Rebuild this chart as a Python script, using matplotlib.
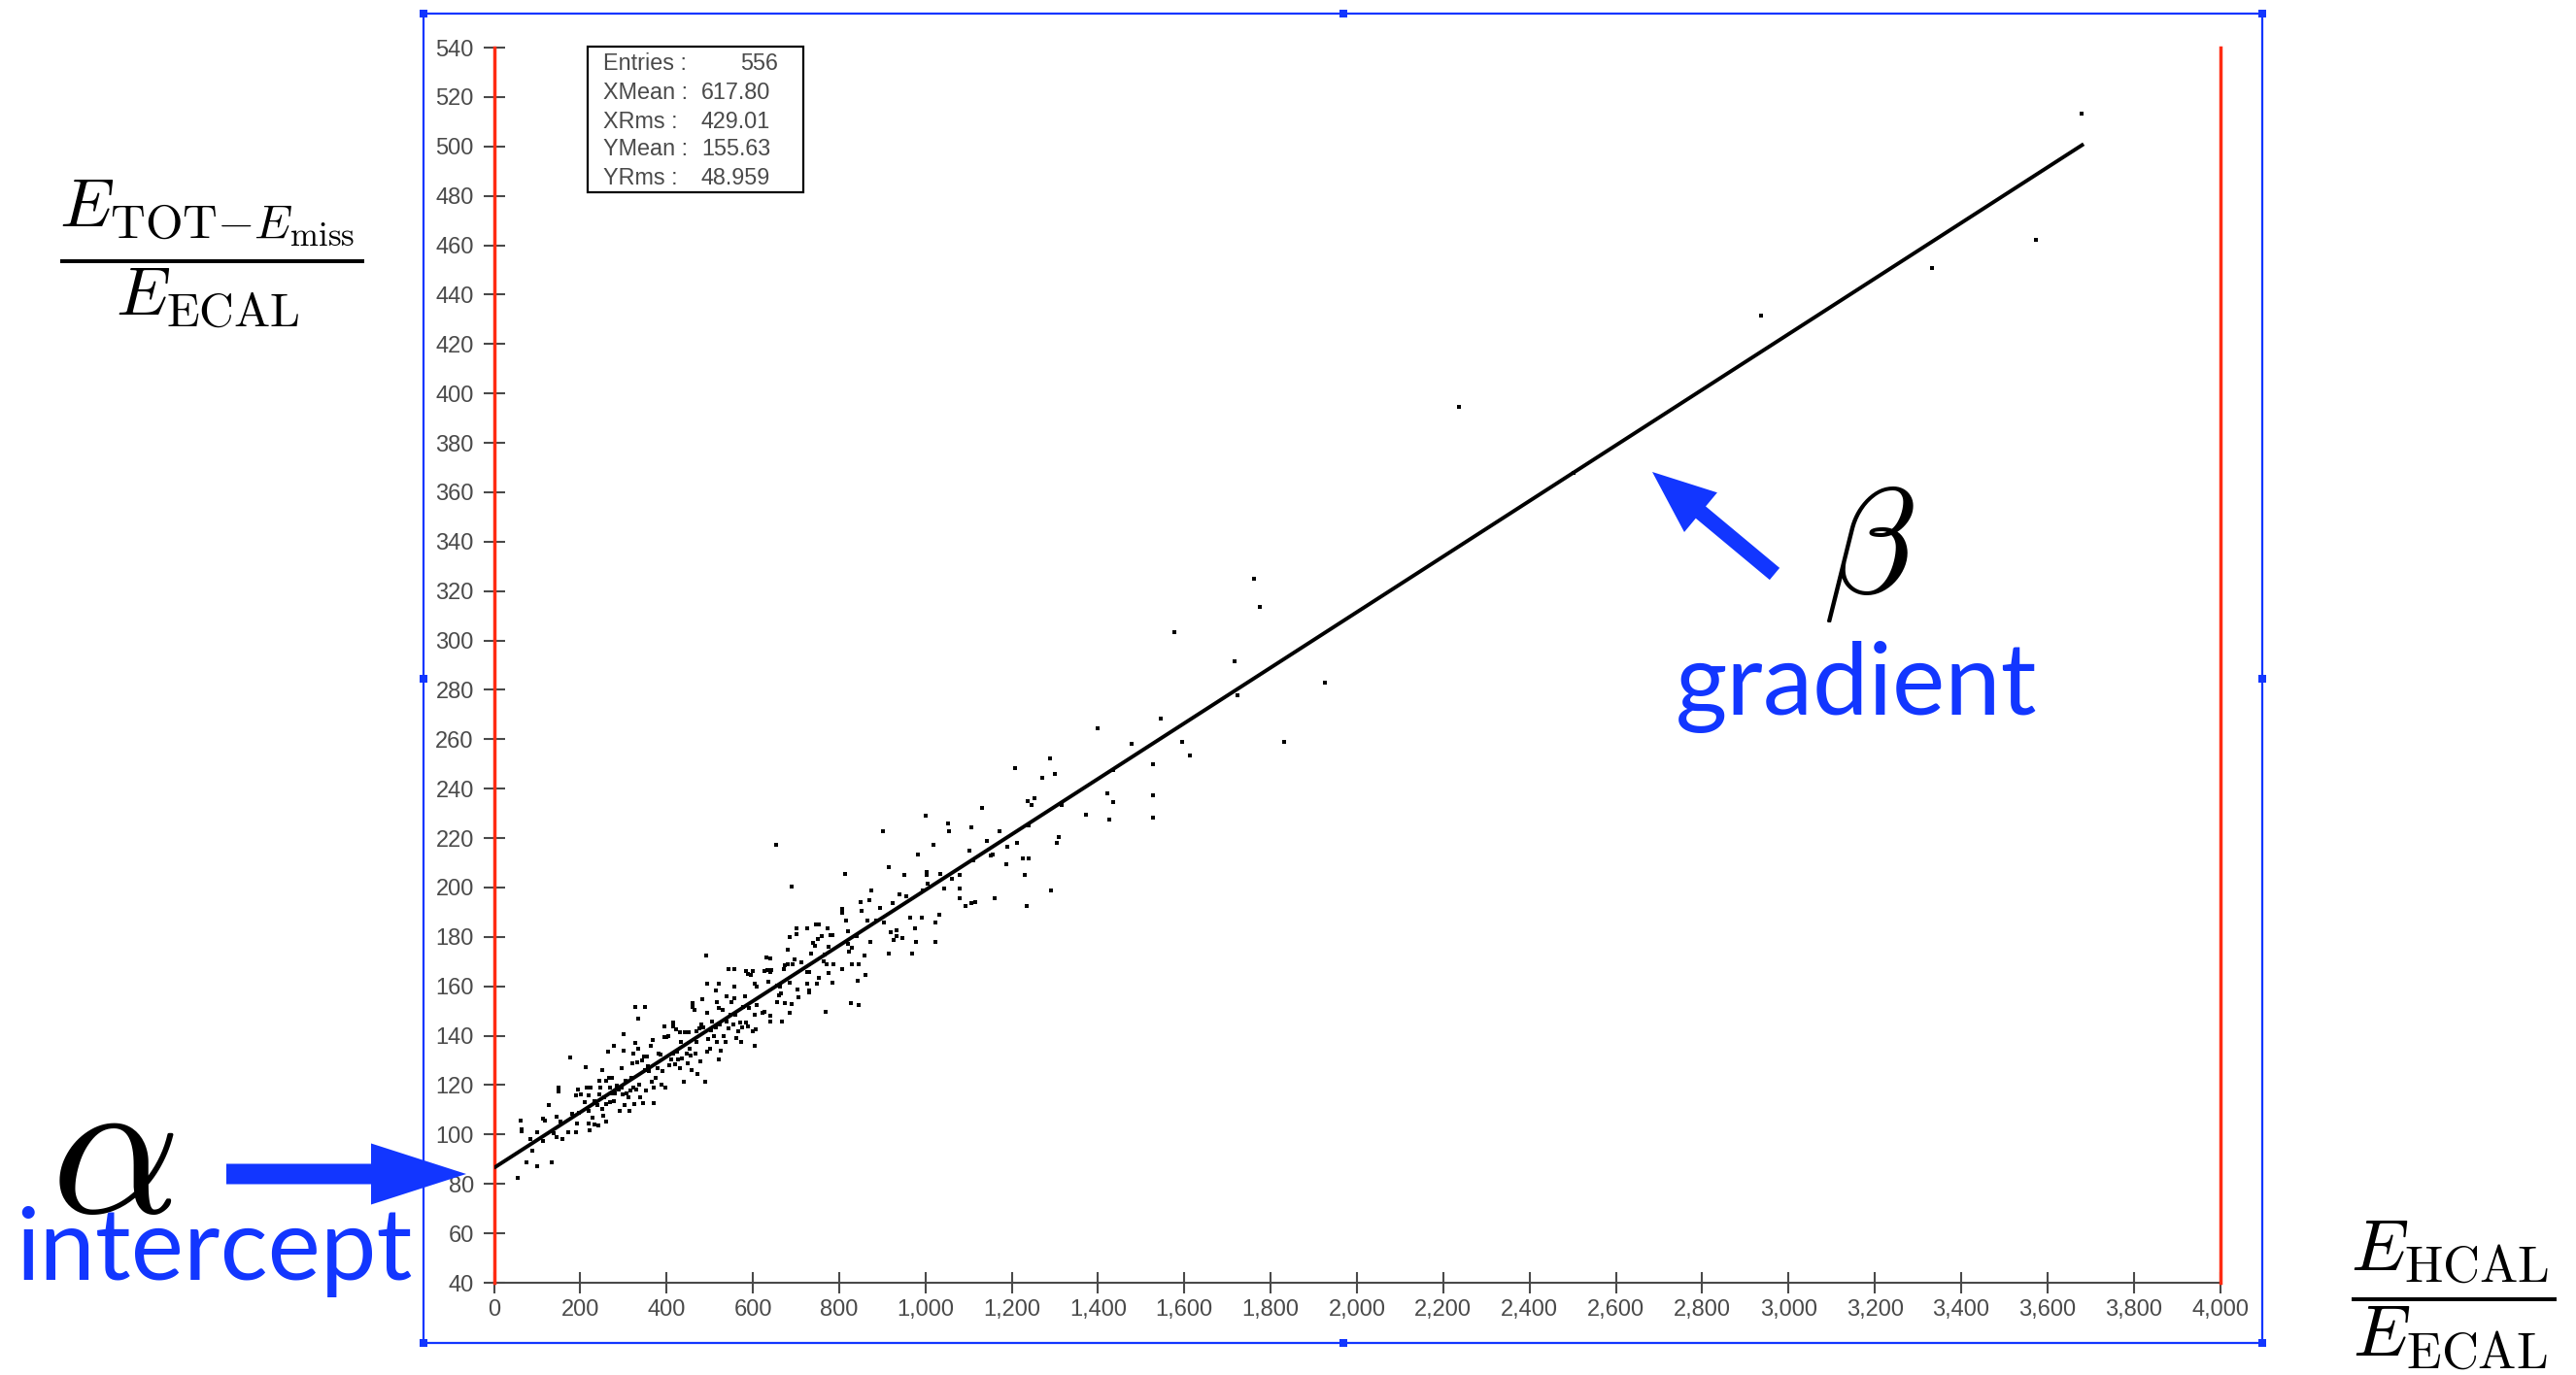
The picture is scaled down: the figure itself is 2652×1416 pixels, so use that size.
import matplotlib
matplotlib.use("Agg")
import matplotlib.pyplot as plt
from matplotlib.patches import Rectangle, FancyArrow

plt.rcParams["mathtext.fontset"] = "cm"

W, H, DPI = 2652, 1416, 100

# Per-event energy ratios: x = E_HCAL / E_ECAL, y = (E_TOT - E_miss) / E_ECAL
ehcal_over_ecal = [
    56, 61, 65, 65, 75, 84, 88, 101, 101, 114, 118, 114, 127, 133, 139, 145, 145, 149, 149, 155,
    159, 172, 176, 182, 190, 190, 195, 193, 197, 202, 212, 210, 215, 225, 220, 220, 220, 221, 229, 232,
    234, 242, 240, 244, 245, 247, 250, 251, 253, 255, 259, 260, 261, 265, 266, 268, 270, 272, 274, 277,
    279, 281, 285, 289, 291, 295, 296, 298, 300, 300, 302, 304, 307, 311, 313, 316, 319, 320, 322, 324,
    326, 328, 328, 330, 331, 334, 334, 336, 339, 343, 345, 347, 349, 350, 352, 355, 356, 360, 364, 365,
    367, 370, 371, 375, 379, 382, 386, 388, 390, 394, 394, 397, 400, 405, 407, 410, 415, 415, 416, 420,
    422, 425, 427, 430, 431, 433, 435, 440, 442, 446, 450, 452, 454, 455, 457, 460, 461, 465, 467, 469,
    470, 472, 475, 478, 480, 482, 484, 490, 493, 495, 497, 500, 502, 506, 510, 514, 516, 517, 520, 521,
    523, 525, 529, 532, 536, 538, 540, 544, 547, 551, 555, 557, 559, 562, 566, 570, 574, 575, 577, 581,
    585, 589, 592, 600, 604, 605, 607, 610, 622, 626, 641, 641, 656, 660, 665, 667, 675, 686, 690, 705,
    731, 769, 827, 845,
    491, 495, 514, 520, 544, 557, 557, 585, 589, 596, 600, 604, 610, 626, 632, 634, 637, 641, 641, 643,
    655, 656, 664, 671, 675, 680, 682, 685, 686, 690, 692, 697, 701, 701, 703, 712, 725, 725, 727, 730,
    731, 735, 739, 745, 746, 748, 750, 754, 754, 760, 765, 767, 770, 773, 775, 775, 780, 784, 784, 787,
    806, 806, 808, 814, 817, 820, 821, 823, 829, 830, 840, 842, 846, 850, 853, 859, 862, 866, 871, 872,
    875, 885, 894, 902, 904, 916, 916, 920, 925, 926, 934, 934, 939, 947, 952, 956, 965, 970, 975, 977,
    982, 991, 994, 1000, 1003, 1003, 1005, 1018, 1022, 1022, 1031, 1035, 1044, 1052, 1054, 1061, 1080, 1080, 1080, 1093,
    1106, 1115, 1102, 1106, 1110, 1132, 1142, 1151, 1155, 1160, 1172, 1187, 1190, 1213, 1226, 1230, 1234, 1237, 1240, 1240,
    1245, 1252, 1292, 1305, 1310, 1315, 1373,
    1762, 1775, 1576, 1717, 1925, 1723, 1545, 1399, 1478, 1594, 1832, 1612, 1528, 1288, 1208, 1301, 1270, 1435, 1421, 1435,
    1528, 1426, 1528,
    2236, 2503, 2937, 3333, 3573, 3680,
]
etot_over_ecal = [
    82.5, 105.8, 102.2, 101.2, 88.8, 98.0, 93.4, 101.1, 87.1, 106.5, 105.8, 97.3, 112.0, 88.8, 100.6, 107.4, 99.0, 119.0, 117.4, 105.2,
    98.0, 101.1, 131.3, 108.5, 116.0, 101.1, 118.1, 104.5, 108.7, 116.1, 127.4, 113.3, 119.0, 119.0, 116.0, 109.5, 104.5, 101.9, 106.8, 113.7,
    103.9, 103.5, 112.0, 121.9, 116.1, 119.0, 110.4, 125.9, 107.8, 115.0, 112.4, 105.2, 121.9, 133.7, 122.9, 113.1, 119.0, 116.6, 122.9, 113.7,
    136.0, 116.6, 119.6, 118.3, 109.5, 126.9, 119.0, 116.3, 140.6, 133.8, 111.8, 121.6, 116.6, 115.0, 109.5, 117.7, 122.9, 128.8, 132.8, 119.0,
    112.2, 151.8, 137.1, 118.3, 129.2, 146.8, 134.7, 120.3, 115.0, 130.1, 112.6, 131.4, 151.5, 126.2, 117.7, 131.4, 127.5, 125.5, 136.0, 121.4,
    138.4, 119.0, 112.6, 122.9, 126.9, 132.8, 132.5, 120.3, 125.5, 143.6, 139.3, 119.0, 139.3, 139.7, 128.2, 130.5, 145.5, 132.8, 143.9, 128.4,
    142.6, 133.7, 130.5, 141.5, 126.9, 137.4, 130.8, 121.2, 141.3, 132.8, 128.8, 141.3, 134.7, 132.1, 126.2, 153.1, 151.8, 150.5, 132.8, 142.0,
    137.4, 124.5, 142.9, 129.7, 144.6, 154.6, 143.3, 121.4, 149.2, 133.4, 138.7, 134.7, 142.3, 145.9, 140.0, 143.2, 137.4, 153.7, 151.1, 130.5,
    144.6, 134.0, 150.5, 140.0, 137.4, 156.0, 145.9, 142.9, 148.5, 153.7, 144.6, 155.0, 148.5, 138.9, 141.9, 145.2, 137.6, 143.3, 151.5, 156.0,
    145.2, 143.9, 151.1, 141.9, 148.5, 136.0, 142.6, 152.4, 149.2, 149.8, 148.1, 145.9, 153.7, 156.4, 157.0, 145.9, 153.3, 149.2, 152.8, 155.5,
    157.7, 149.8, 153.1, 152.3,
    172.4, 160.9, 158.4, 160.9, 166.9, 166.9, 159.7, 166.3, 165.0, 164.7, 166.3, 161.0, 160.0, 166.3, 171.8, 166.5, 162.0, 171.2, 165.6, 166.5,
    217.4, 160.3, 159.7, 166.9, 168.6, 174.8, 168.9, 161.6, 180.0, 200.4, 169.1, 170.8, 183.3, 181.3, 158.6, 169.9, 183.3, 161.0, 165.6, 165.6,
    158.4, 173.1, 177.4, 176.5, 184.9, 161.0, 179.1, 184.9, 163.6, 180.4, 170.2, 172.8, 168.9, 183.3, 176.1, 165.2, 180.9, 180.9, 161.5, 169.1,
    191.2, 189.6, 166.9, 205.6, 186.6, 177.0, 182.3, 174.1, 169.1, 175.7, 180.4, 162.3, 169.1, 194.1, 190.5, 172.6, 164.7, 186.6, 194.9, 177.8,
    198.8, 186.6, 191.8, 222.9, 185.7, 208.2, 173.3, 182.0, 193.5, 178.7, 182.7, 180.4, 197.1, 179.6, 205.0, 196.4, 187.9, 173.2, 183.3, 177.8,
    213.5, 187.9, 198.8, 229.0, 206.3, 205.0, 201.4, 217.4, 185.7, 177.8, 188.8, 205.6, 199.4, 226.0, 222.9, 203.4, 205.0, 199.4, 195.8, 192.5,
    193.8, 194.1, 215.1, 224.2, 211.1, 232.1, 219.0, 212.8, 213.5, 195.8, 222.9, 209.5, 216.6, 218.1, 211.9, 205.0, 192.5, 235.1, 225.0, 211.9,
    233.4, 236.0, 198.8, 218.1, 220.3, 233.4, 229.6,
    325.0, 313.4, 303.2, 291.6, 283.0, 277.7, 268.4, 264.5, 258.3, 259.1, 259.1, 253.6, 249.8, 252.2, 248.3, 246.0, 244.4, 247.6, 238.1, 234.4,
    237.5, 227.4, 228.1,
    394.4, 367.8, 431.6, 450.9, 462.2, 513.4,
]

# Straight-line fit y = alpha + beta * x
fit_alpha = 86.5
fit_beta = 0.1125
fit_x_range = [0, 3684]

y_ticks = list(range(40, 541, 20))
x_ticks = list(range(0, 4001, 200))
x_tick_labels = ["0", "200", "400", "600", "800", "1,000", "1,200", "1,400", "1,600", "1,800",
                 "2,000", "2,200", "2,400", "2,600", "2,800", "3,000", "3,200", "3,400", "3,600",
                 "3,800", "4,000"]

stats_names = ["Entries :", "XMean :", "XRms :", "YMean :", "YRms :"]
stats_values = ["556", "617.80", "429.01", "155.63", "48.959"]

BLUE = "#1236FF"
RED = "#FF2B12"
GREY = "#4a4a4a"
TICK_FONT = "Liberation Sans"

fig = plt.figure(figsize=(W / DPI, H / DPI), dpi=DPI)


def px_rect(x0, y0, x1, y1):
    return [x0 / W, 1 - y1 / H, (x1 - x0) / W, (y1 - y0) / H]


ax = fig.add_axes(px_rect(508.5, 49, 2285.5, 1321))
ax.set_xlim(0, 4000)
ax.set_ylim(40, 540)
ax.patch.set_alpha(0)

for side in ("left", "right"):
    ax.spines[side].set_color(RED)
    ax.spines[side].set_linewidth(2.5)
    ax.spines[side].set_zorder(3)
ax.spines["top"].set_visible(False)
ax.spines["bottom"].set_color(GREY)
ax.spines["bottom"].set_linewidth(1.5)

ax.set_xticks(x_ticks)
ax.set_xticklabels(x_tick_labels)
ax.set_yticks(y_ticks)
ax.set_yticklabels([str(v) for v in y_ticks])
ax.tick_params(axis="both", direction="inout", length=15.8, width=1.5, color=GREY,
               labelsize=17, labelcolor=GREY)
ax.tick_params(axis="x", pad=4)
ax.tick_params(axis="y", pad=7)
for lab in ax.get_xticklabels() + ax.get_yticklabels():
    lab.set_family(TICK_FONT)

ax.scatter(ehcal_over_ecal, etot_over_ecal, s=8, marker="s", c="black",
           linewidths=0, zorder=4, clip_on=False)
fit_y = [fit_alpha + fit_beta * v for v in fit_x_range]
ax.plot(fit_x_range, fit_y, color="black", lw=2.8, solid_capstyle="butt", zorder=5)

# Overlay in figure pixel coordinates for the frame, stats box and annotations
ov = fig.add_axes([0, 0, 1, 1])
ov.set_xlim(0, W)
ov.set_ylim(H, 0)
ov.axis("off")
ov.patch.set_alpha(0)

# Selection frame with handles
ov.add_patch(Rectangle((436, 14), 1893, 1369, fill=False, ec=BLUE, lw=1.6))
for hx in (436, 1382.5, 2329):
    for hy in (14, 698.5, 1383):
        if hx == 1382.5 and hy == 698.5:
            continue
        ov.add_patch(Rectangle((hx - 4, hy - 4), 8, 8, color=BLUE, lw=0))

# Statistics box
ov.add_patch(Rectangle((605, 48), 222, 150, fill=False, ec="black", lw=1.6))
stat_rows = [66, 96, 125, 154, 183]
for i, (name, val) in enumerate(zip(stats_names, stats_values)):
    ov.text(621, stat_rows[i], name, fontsize=16.8, family=TICK_FONT, color=GREY,
            va="center", ha="left")
    if i == 0:
        ov.text(801, stat_rows[i], val, fontsize=16.8, family=TICK_FONT, color=GREY,
                va="center", ha="right")
    else:
        ov.text(722, stat_rows[i], val, fontsize=16.8, family=TICK_FONT, color=GREY,
                va="center", ha="left")

# Axis titles as fractions
ov.text(218, 262, r"$\dfrac{E_{\mathrm{TOT}{-}E_{\mathrm{miss}}}}{E_{\mathrm{ECAL}}}$",
        fontsize=51, ha="center", va="center", color="black")
ov.text(2526, 1334, r"$\dfrac{E_{\mathrm{HCAL}}}{E_{\mathrm{ECAL}}}$",
        fontsize=54, ha="center", va="center", color="black")

# Intercept annotation
ov.add_patch(FancyArrow(233, 1209, 247, 0, width=21, head_width=63, head_length=98,
                        length_includes_head=True, color=BLUE, lw=0))
ov.text(116, 1191, r"$\alpha$", fontsize=150, ha="center", va="center", color="black")
ov.text(16, 1318, "intercept", family="Lato", fontsize=74, color=BLUE,
        ha="left", va="baseline")

# Gradient annotation
ov.add_patch(FancyArrow(1827, 591, -126, -105, width=16, head_width=53, head_length=65,
                        length_includes_head=True, color=BLUE, lw=0))
ov.text(1924, 568, r"$\beta$", fontsize=112, ha="center", va="center", color="black")
ov.text(1725, 736, "gradient", family="Lato", fontsize=74, color=BLUE,
        ha="left", va="baseline")

fig.savefig("out.png", dpi=DPI)
